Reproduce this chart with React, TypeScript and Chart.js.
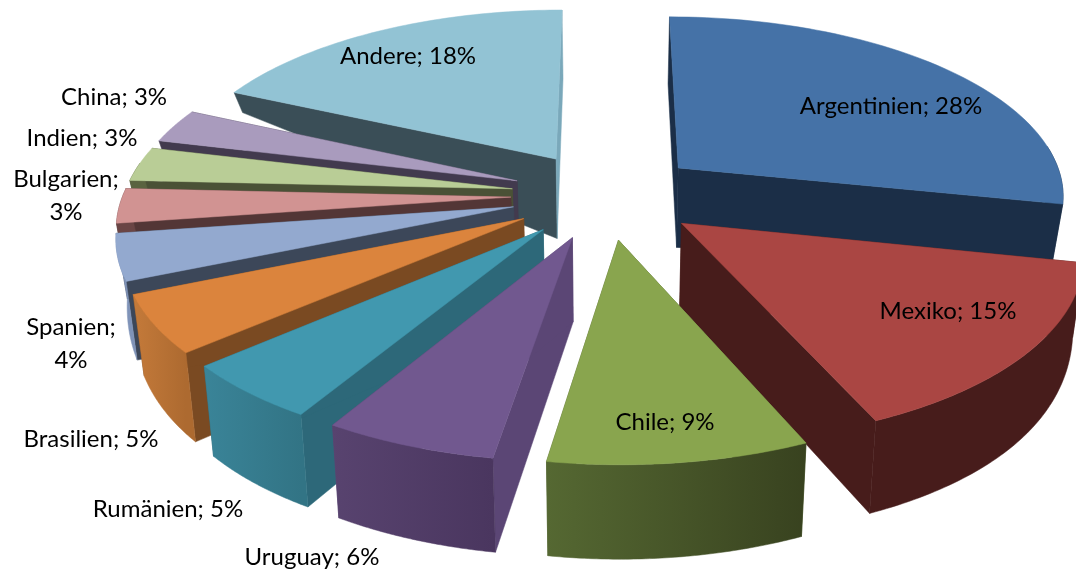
import React, { useEffect, useRef } from "react";
import { Chart, registerables } from "chart.js";

Chart.register(...registerables);

const categories = ["Argentinien", "Mexiko", "Chile", "Uruguay", "Rumänien", "Brasilien", "Spanien", "Bulgarien", "Indien", "China", "Andere"];
const shares = [28, 15, 9, 6, 5, 5, 4, 3, 3, 3, 18];
const topColors = ["#4572A7", "#AA4643", "#89A54E", "#71588F", "#4198AF", "#DB843D", "#93A9CF", "#D19392", "#B9CD96", "#A99BBD", "#92C3D4"];
const startWallColors = ["#1B2E47", "#471C1B", "#4F5F2D", "#5B4675", "#2D6879", "#7A4A22", "#3C4759", "#533636", "#4A5136", "#423A4E", "#3A4E57"];
const endWallColors = ["#1B2E47", "#471C1B", "#4F5F2D", "#5B4675", "#2D6879", "#7A4A22", "#3C4759", "#533636", "#4A5136", "#423A4E", "#7AA8BA"];
const outerStart = ["#1B2E47", "#471C1B", "#556832", "#58436F", "#3A8498", "#C47A3A", "#7F93B8", "#6A4545", "#5A6340", "#524A60", "#4A626C"];
const outerEnd = ["#1B2E47", "#471C1B", "#38421F", "#4A365F", "#327485", "#AD6A30", "#7F93B8", "#6A4545", "#5A6340", "#524A60", "#4A626C"];

// label centre placement, index-aligned with categories; lines split as in the picture
const labelLines: string[][] = categories.map((c, i) => {
  const t = `${c}; ${shares[i]}%`;
  return c === "Bulgarien" || c === "Spanien" ? [`${c};`, `${shares[i]}%`] : [t];
});
const labelCentres = [[891, 106], [948, 311], [665, 422], [312, 557], [168, 509], [91, 439], [71, 344], [66, 196], [82, 138], [114, 97], [408, 56]];

// view model of the tilted pie
const CX = 606, CY = 195, S = 388, K = 0.462, A = 0.14;

function project(u: number, v: number) {
  const p = 1 / (1 - A * v);
  return { x: CX + S * u * p, y: CY + S * K * v * p };
}
function projectBase(u: number, v: number) {
  const t = project(u, v);
  const d = Math.max(10, 92 - 10 * (1 - v) - 19.5 * u * u * (1 - v) * (1 - v));
  return { x: CX + (t.x - CX) * 0.977, y: t.y + d };
}

function poly(ctx: CanvasRenderingContext2D, pts: { x: number; y: number }[], fill: any) {
  ctx.beginPath();
  pts.forEach((q, i) => (i ? ctx.lineTo(q.x, q.y) : ctx.moveTo(q.x, q.y)));
  ctx.closePath();
  ctx.fillStyle = fill;
  ctx.strokeStyle = fill;
  ctx.lineWidth = 0.5;
  ctx.fill();
  ctx.stroke();
}

const tiltedPie = {
  id: "tiltedPie",
  beforeDatasetsDraw(chart: any) {
    const ctx: CanvasRenderingContext2D = chart.ctx;
    const arcs = chart.getDatasetMeta(0).data;
    const slices = arcs.map((el: any, i: number) => {
      const { startAngle, endAngle, outerRadius } = el.getProps(["startAngle", "endAngle", "outerRadius"], true);
      const mid = (startAngle + endAngle) / 2;
      const off = (el.options.offset || 0) / outerRadius;
      return { i, startAngle, endAngle, ou: Math.cos(mid) * off, ov: Math.sin(mid) * off };
    });
    slices.sort((a: any, b: any) => {
      const fa = Math.sin((a.startAngle + a.endAngle) / 2);
      const fb = Math.sin((b.startAngle + b.endAngle) / 2);
      return fa - fb;
    });
    ctx.save();
    for (const s of slices) {
      const N = 64;
      const rim: { u: number; v: number; front: boolean }[] = [];
      for (let k = 0; k <= N; k++) {
        const th = s.startAngle + ((s.endAngle - s.startAngle) * k) / N;
        rim.push({ u: s.ou + Math.cos(th), v: s.ov + Math.sin(th), front: Math.sin(th) > -0.15 });
      }
      const apexT = project(s.ou, s.ov);
      const apexB = projectBase(s.ou, s.ov);
      const tops = rim.map((r) => project(r.u, r.v));
      const bots = rim.map((r) => projectBase(r.u, r.v));
      // radial walls
      poly(ctx, [apexT, tops[0], bots[0], apexB], startWallColors[s.i]);
      poly(ctx, [apexT, tops[N], bots[N], apexB], endWallColors[s.i]);
      // outer wall, only where the rim faces the viewer
      const vis = rim.map((r, k) => (r.front ? k : -1)).filter((k) => k >= 0);
      if (vis.length > 1) {
        const g = ctx.createLinearGradient(tops[N].x, 0, tops[0].x, 0);
        g.addColorStop(0, outerStart[s.i]);
        g.addColorStop(1, outerEnd[s.i]);
        poly(ctx, [...vis.map((k) => tops[k]), ...vis.slice().reverse().map((k) => bots[k])], g);
      }
      // top face
      poly(ctx, [apexT, ...tops], topColors[s.i]);
    }
    // data labels
    ctx.fillStyle = "#000";
    ctx.font = "24px Lato";
    ctx.textAlign = "center";
    ctx.textBaseline = "middle";
    labelLines.forEach((lines, i) => {
      const [x, y] = labelCentres[i];
      lines.forEach((line, j) => ctx.fillText(line, x, y + (j - (lines.length - 1) / 2) * 33));
    });
    ctx.restore();
    return false;
  },
};

export default function App() {
  const ref = useRef<HTMLCanvasElement>(null);
  useEffect(() => {
    document.body.style.margin = "0";
    const chart = new Chart(ref.current!, {
      type: "pie",
      data: {
        labels: categories,
        datasets: [{ data: shares, backgroundColor: topColors, offset: 49, radius: 200 } as any],
      },
      options: {
        animation: false,
        responsive: false,
        plugins: { legend: { display: false }, tooltip: { enabled: false } },
      },
      plugins: [tiltedPie],
    });
    return () => chart.destroy();
  }, []);
  return <canvas ref={ref} width={1076} height={572} style={{ display: "block" }} />;
}
